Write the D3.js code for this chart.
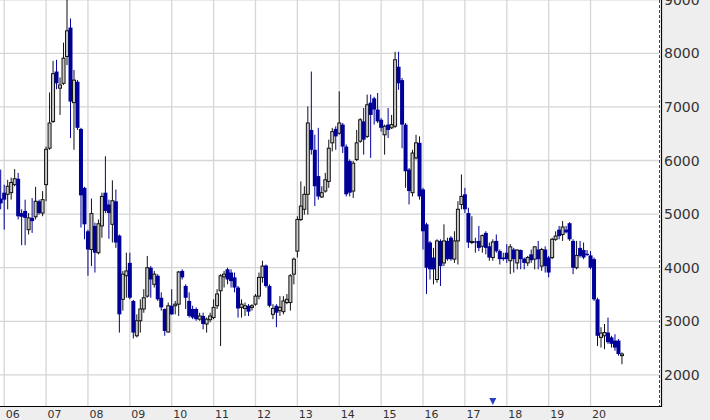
<!DOCTYPE html>
<html><head><meta charset="utf-8">
<script src="https://cdn.jsdelivr.net/npm/d3@7"></script>
<style>html,body{margin:0;padding:0;background:#fff;}svg{display:block;}</style>
</head><body>
<svg id="chart" width="710" height="420"></svg>
<script>
// Monthly candles, first = Dec 2005, last = Oct 2020
const startYear = 2005, startMonth = 11;
const open  = [5290,5400,5370,5400,5550,5660,5020,5060,4710,4930,4950,5240,5020,5550,6230,6730,7660,7350,7440,7940,8480,7080,7470,6590,5490,4680,4340,4780,4280,4780,5400,5180,4810,5240,4600,3410,3850,4090,3380,2730,3010,3230,3470,4000,3690,3850,3440,3230,2800,3290,3290,3320,3940,3660,3380,3230,3230,3040,3100,2950,3030,3070,3290,3570,3830,3970,3910,3820,3630,3260,3240,3290,3260,3320,3470,3820,4040,3660,3130,3290,3200,3180,3350,3350,3880,4310,4900,5090,5370,6570,6200,5710,5320,5430,5610,6330,6590,6510,6670,6260,5990,5430,6020,6360,6730,6450,7080,7160,6950,6760,6480,6670,6610,6640,7750,7500,6670,5830,5400,6050,6330,5460,4810,4470,4190,3780,4500,4090,4500,4560,4160,4500,5180,5370,5020,4470,4490,4500,4400,4650,4400,4190,4500,4310,4190,4280,4130,4340,4090,4330,4170,4090,4250,4160,4340,4030,4340,4190,4190,4530,4710,4620,4710,4830,4500,4000,4370,4330,4260,4230,4160,3410,2700,2730,2790,2700,2640,2640,2360];
const high  = [5830,5550,5640,5680,5840,5770,5090,5270,5020,5300,5510,5270,5430,6260,7270,7860,7880,7550,8200,9150,8650,7690,7500,6610,5510,4710,5290,4840,4900,5400,6080,5270,5630,5460,4620,3940,4280,4280,3400,3130,3410,3600,4220,4030,3940,3880,3540,3240,3350,3600,3380,3940,3970,3690,3540,3290,3260,3160,3160,3070,3160,3410,3600,3880,3940,4000,3970,3910,3660,3410,3350,3320,3320,3510,3910,4130,4060,3690,3320,3320,3470,3470,3510,3880,4190,4960,5610,5520,7010,7660,6480,6610,5520,5770,6390,6610,6640,7290,6700,6300,6020,5990,6570,6790,6980,7230,7230,7190,7260,6790,6670,6980,6850,8030,8030,7540,6700,5860,6200,6480,6450,5490,4840,4500,4370,4530,4530,4810,4560,4590,4680,5240,5740,5490,5120,4960,4560,4780,4620,4680,4470,4530,4620,4340,4280,4440,4440,4370,4340,4340,4190,4220,4340,4400,4500,4370,4400,4220,4560,4680,4780,4870,4780,4850,4530,4500,4500,4470,4330,4310,4190,3440,2890,2950,3070,2730,2760,2670,2420];
const low   = [5090,4710,5090,5270,5520,4900,4420,4420,4620,4650,4900,4990,4960,5240,6200,6700,7330,6850,7410,7780,6420,6200,6570,4750,4530,3850,4030,3910,4250,4560,5020,4540,4470,4370,2790,3200,3440,3410,2680,2700,2790,3160,3440,3440,3630,3380,3200,2730,2790,3120,3130,3100,3780,3230,3070,3040,3010,3010,2850,2790,2980,3040,3230,2540,3630,3690,3630,3540,3070,3070,3100,3100,3200,3290,3410,3720,3630,3260,3040,2890,3100,3130,3320,3200,3690,4190,4870,4990,4990,6110,5150,5270,5300,5400,5490,6170,6200,6480,6140,5330,5330,5300,5990,6330,6110,6420,6050,6670,6700,6540,6110,6420,6590,6610,7320,6230,5490,5180,5330,6020,5270,4340,3510,3780,3690,3720,3660,4030,4130,4130,4090,4060,5090,5020,4370,4440,4280,4310,4280,4250,4130,4130,4280,4060,4130,4090,3880,3910,3970,3970,3970,4030,4090,3970,3970,3940,3910,3820,4160,4500,4530,4500,4640,4500,3880,3970,4190,4160,4220,3970,3380,2540,2510,2480,2580,2510,2450,2360,2200];
const close = [5200,5270,5520,5590,5660,4960,4950,4930,4930,4870,5240,5020,5270,6210,6700,7620,7440,7410,7910,8420,7100,7500,6610,5350,4810,4340,5010,4280,4820,5330,5060,5020,5250,4470,3130,3880,3940,3440,2790,3010,3230,3440,4000,3780,3880,3410,3260,2820,3290,3130,3320,3920,3820,3440,3100,3070,3040,3100,2950,3040,3100,3260,3510,3850,3880,3780,3750,3630,3240,3320,3290,3180,3290,3470,3820,4030,3660,3290,3240,3160,3260,3380,3410,3850,4160,4900,5150,5370,6700,6200,5520,5330,5400,5640,6230,6540,6450,6700,6260,5370,5400,5950,6330,6760,6390,7040,6850,6950,6730,6610,6640,6570,6670,7880,7440,6670,5800,5430,6140,6330,5330,4680,4000,3970,3970,4500,4030,4500,4160,4160,4500,5090,5330,5090,4470,4490,4470,4370,4600,4370,4190,4480,4310,4160,4160,4160,4390,4160,4330,4160,4090,4190,4140,4390,4160,4340,4030,3910,4530,4590,4590,4760,4660,4530,4000,4230,4220,4190,4240,4000,3410,2730,2780,2790,2610,2580,2510,2390,2390];
const yearLabels = ["06","07","08","09","10","11","12","13","14","15","16","17","18","19","20"];
const priceTicks = [2000,3000,4000,5000,6000,7000,8000,9000];
const markerMonths = ["2017-09"];

const W = 710, H = 420, plotR = 660, plotB = 406;
const svg = d3.select("#chart");

// month index relative to Jan 2006
const candleM = open.map((d, i) => (startYear - 2006) * 12 + startMonth + i);
const x = d3.scaleLinear().domain([-1.2, 187.9]).range([0, plotR]);
const y = d3.scaleLinear().domain([1420, 8995]).range([plotB, 0]);

// panels
svg.append("rect").attr("x", 0).attr("y", 0).attr("width", W).attr("height", H).attr("fill", "#fff");
svg.append("rect").attr("x", 661).attr("y", 0).attr("width", W - 661).attr("height", H).attr("fill", "#eeeeee");
svg.append("rect").attr("x", 0).attr("y", plotB).attr("width", W).attr("height", H - plotB).attr("fill", "#eeeeee");

const grid = svg.append("g").attr("stroke", "#d6d6d6").attr("stroke-width", 1.3);
yearLabels.forEach((lab, k) => {
  const xx = x(k * 12);
  grid.append("line").attr("x1", xx).attr("x2", xx).attr("y1", 0).attr("y2", plotB);
});
priceTicks.forEach(v => {
  grid.append("line").attr("x1", 0).attr("x2", 659).attr("y1", y(v)).attr("y2", y(v));
});

// candles
const g = svg.append("g");
candleM.forEach((m, i) => {
  const cx = x(m);
  const up = close[i] >= open[i];
  const col = up ? "#111" : "#000099";
  g.append("line").attr("x1", cx).attr("x2", cx).attr("y1", y(high[i])).attr("y2", y(low[i]))
    .attr("stroke", col).attr("stroke-width", 1);
  const top = y(Math.max(open[i], close[i])), bot = y(Math.min(open[i], close[i]));
  if (up) {
    g.append("rect").attr("x", cx - 1.5).attr("y", top).attr("width", 3).attr("height", Math.max(1, bot - top))
      .attr("fill", "#c8c8c8").attr("stroke", "#111").attr("stroke-width", 1);
  } else {
    g.append("rect").attr("x", cx - 2).attr("y", top).attr("width", 4).attr("height", Math.max(1.2, bot - top))
      .attr("fill", "#000099");
  }
});

// markers
markerMonths.forEach(s => {
  const [yy, mm] = s.split("-").map(Number);
  const cx = x((yy - 2006) * 12 + mm - 1);
  svg.append("path").attr("d", `M${cx-3.5},398 L${cx+3.5},398 L${cx},405 Z`).attr("fill", "#2a3fc0");
});

// axes lines
svg.append("line").attr("x1", 0).attr("x2", 661).attr("y1", plotB + 0.5).attr("y2", plotB + 0.5).attr("stroke", "#000").attr("stroke-width", 1.2);
svg.append("line").attr("x1", 661.5).attr("x2", 661.5).attr("y1", 0).attr("y2", plotB + 1).attr("stroke", "#000").attr("stroke-width", 1.2);
svg.append("line").attr("x1", 659.5).attr("x2", 659.5).attr("y1", 0).attr("y2", plotB).attr("stroke", "#444").attr("stroke-width", 1).attr("stroke-dasharray", "3,2");

// labels
svg.append("g").selectAll("text").data(priceTicks).join("text")
  .attr("x", 664).attr("y", d => y(d)).attr("dy", "0.36em")
  .attr("font-family", "DejaVu Sans").attr("font-size", 14).attr("fill", "#333")
  .text(d => d);
svg.append("g").selectAll("text").data(yearLabels).join("text")
  .attr("x", (d, k) => x(k * 12) + 1.5).attr("y", 417.5)
  .attr("font-family", "DejaVu Sans").attr("font-size", 11).attr("fill", "#333")
  .text(d => d);
</script>
</body></html>
